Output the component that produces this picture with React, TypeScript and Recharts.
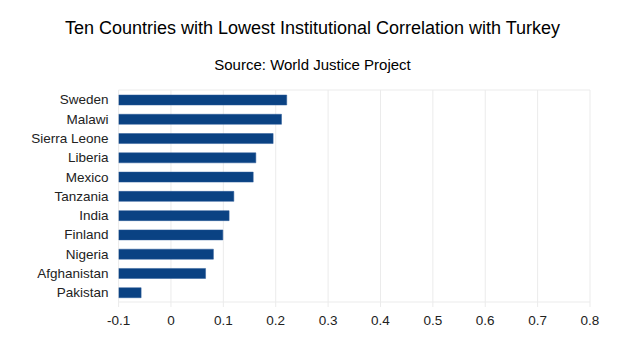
import React from "react";
import { BarChart, Bar, XAxis, YAxis, CartesianGrid } from "recharts";

const countries = [
  "Sweden",
  "Malawi",
  "Sierra Leone",
  "Liberia",
  "Mexico",
  "Tanzania",
  "India",
  "Finland",
  "Nigeria",
  "Afghanistan",
  "Pakistan",
];
const correlations = [0.221, 0.211, 0.195, 0.162, 0.157, 0.12, 0.111, 0.099, 0.081, 0.066, -0.057];
const xTicks = [-0.1, 0, 0.1, 0.2, 0.3, 0.4, 0.5, 0.6, 0.7, 0.8];
const axisMin = -0.1;
const axisMax = 0.8;

const title = "Ten Countries with Lowest Institutional Correlation with Turkey";
const subtitle = "Source: World Justice Project";

const data = countries.map((c, i) => ({ country: c, value: correlations[i] }));

const FONT = "'Liberation Sans', Arial, sans-serif";

export default function App() {
  return (
    <div style={{ position: "absolute", left: 0, top: 0, width: 625, height: 351, background: "#fff" }}>
      <svg width={625} height={351} style={{ position: "absolute", left: 0, top: 0 }}>
        <text x={312.5} y={34} textAnchor="middle" fontFamily={FONT} fontSize={18} fill="#000">
          {title}
        </text>
        <text x={312.5} y={70} textAnchor="middle" fontFamily={FONT} fontSize={15} fill="#000">
          {subtitle}
        </text>
      </svg>
      <div style={{ position: "absolute", left: 0, top: 0 }}>
        <BarChart
          width={625}
          height={351}
          data={data}
          layout="vertical"
          margin={{ top: 90, right: 35, left: 0, bottom: 0 }}
          barCategoryGap={0}
        >
          <CartesianGrid
            stroke="#ebebeb"
            vertical={true}
            horizontal={true}
            horizontalCoordinatesGenerator={(p: any) => [p.offset.top, p.offset.top + p.offset.height]}
          />
          <XAxis
            type="number"
            domain={[axisMin, axisMax]}
            ticks={xTicks}
            allowDataOverflow={true}
            height={49}
            axisLine={false}
            tickLine={{ stroke: "#ebebeb" }}
            tickSize={5}
            tickMargin={8}
            tick={{ fill: "#222", fontSize: 13.5, fontFamily: FONT }}
            interval={0}
            tickFormatter={(v: number) => String(Math.round(v * 10) / 10)}
          />
          <YAxis
            type="category"
            dataKey="country"
            width={118.6}
            axisLine={false}
            tickLine={false}
            tickSize={6}
            tickMargin={4}
            interval={0}
            tick={{ fill: "#222", fontSize: 13.5, fontFamily: FONT }}
          />
          <Bar
            dataKey={(d: any) => [axisMin, d.value]}
            fill="#0a4283"
            stroke="#2a5b98"
            strokeWidth={0.5}
            barSize={10}
            isAnimationActive={false}
          />
        </BarChart>
      </div>
    </div>
  );
}
